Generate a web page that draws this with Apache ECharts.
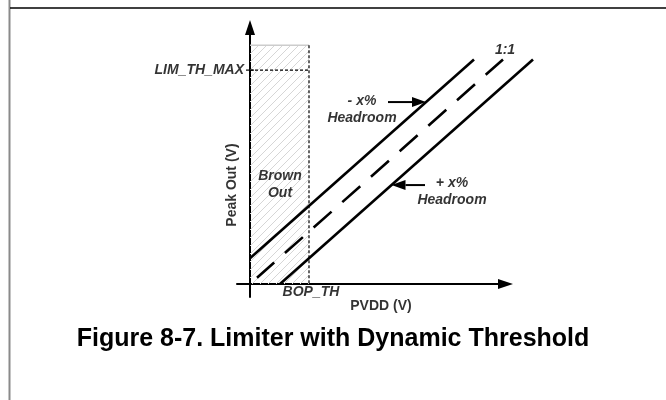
<!DOCTYPE html>
<html>
<head>
<meta charset="utf-8">
<script src="https://cdn.jsdelivr.net/npm/echarts@6/dist/echarts.min.js"></script>
<style>
  html, body { margin: 0; padding: 0; background: #fff; }
  #chart { width: 666px; height: 400px; }
</style>
</head>
<body>
<div id="chart"></div>
<script>
// Peak output threshold versus PVDD supply (schematic units)
const idealLine = [0.7, 0.7, 25.3, 25.3];          // 1:1
const minusHeadroomLine = [0, 2.9, 22.4, 25.3];    // - x% headroom
const plusHeadroomLine = [3.0, 0, 28.3, 25.3];     // + x% headroom
const bopTh = 5.9;          // brown-out threshold on PVDD
const brownOutTop = 26.9;   // top of the brown-out region
const limThMax = 24.1;      // LIM_TH_MAX on peak out

// Callout arrows: [x1, y1, x2, y2], head at the second point
const headroomArrows = [
  [13.8, 20.5, 17.6, 20.5],
  [17.5, 11.15, 14.15, 11.15]
];

// Annotation texts anchored in data space
const annotations = [
  { text: '1:1', at: [25.5, 26.35] },
  { text: '- x%\nHeadroom', at: [11.2, 19.6] },
  { text: '+ x%\nHeadroom', at: [20.2, 10.4] },
  { text: 'Brown\nOut', at: [3.0, 11.2] },
  { text: 'BOP_TH', at: [6.1, -0.9] }
];

const FONT = "'Liberation Sans', Arial, Helvetica, sans-serif";

// Diagonal hatch tile for the brown-out region
function hatchTile() {
  const c = document.createElement('canvas');
  const s = 8;
  c.width = s; c.height = s;
  const g = c.getContext('2d');
  g.strokeStyle = '#d6d6d6';
  g.lineWidth = 1;
  g.beginPath();
  g.moveTo(-1, s + 1); g.lineTo(s + 1, -1);
  g.moveTo(-1, 1); g.lineTo(1, -1);
  g.moveTo(s - 1, s + 1); g.lineTo(s + 1, s - 1);
  g.stroke();
  return c;
}
const hatch = hatchTile();

const chart = echarts.init(document.getElementById('chart'), null, { renderer: 'canvas' });

const axisCommon = {
  type: 'value',
  axisLine: {
    show: true,
    onZero: true,
    symbol: ['none', 'triangle'],
    symbolSize: [10, 15],
    lineStyle: { color: '#000', width: 2 }
  },
  axisTick: { show: false },
  axisLabel: { show: false },
  splitLine: { show: false }
};

// straight segment [x1, y1, x2, y2] drawn through the axes
function segmentSeries(seg, dash, dashOffset) {
  return {
    type: 'custom',
    clip: false,
    z: 3,
    data: [seg],
    renderItem: function (params, api) {
      const a = api.coord([api.value(0), api.value(1)]);
      const b = api.coord([api.value(2), api.value(3)]);
      return {
        type: 'line',
        shape: { x1: a[0], y1: a[1], x2: b[0], y2: b[1] },
        style: { stroke: '#000', lineWidth: 2.6, lineDash: dash || null, lineDashOffset: dashOffset || 0 }
      };
    }
  };
}

chart.setOption({
  animation: false,
  backgroundColor: '#fff',
  title: {
    text: 'Figure 8-7. Limiter with Dynamic Threshold',
    left: 'center',
    top: 322,
    textStyle: { fontFamily: FONT, fontSize: 25, fontWeight: 'bold', color: '#000' }
  },
  graphic: [
    { type: 'line', shape: { x1: 9.5, y1: 0, x2: 9.5, y2: 400 }, style: { stroke: '#8a8a8a', lineWidth: 2 } },
    { type: 'line', shape: { x1: 10, y1: 8, x2: 666, y2: 8 }, style: { stroke: '#000', lineWidth: 1.5 } }
  ],
  grid: { left: 237, right: 160.5, top: 27.5, bottom: 103, containLabel: false },
  xAxis: Object.assign({}, axisCommon, { min: -1.3, max: 25.55 }),
  yAxis: Object.assign({}, axisCommon, { min: -1.46, max: 28.9 }),
  series: [
    {
      // brown-out region with LIM_TH_MAX guide
      type: 'custom',
      clip: false,
      z: 1,
      data: [[0, 0, bopTh, brownOutTop, limThMax]],
      renderItem: function (params, api) {
        const p0 = api.coord([api.value(0), api.value(1)]);
        const p1 = api.coord([api.value(2), api.value(3)]);
        const pl = api.coord([0, api.value(4)]);
        const plEnd = api.coord([api.value(2), api.value(4)]);
        return {
          type: 'group',
          children: [
            { type: 'rect', shape: { x: p0[0], y: p1[1], width: p1[0] - p0[0], height: p0[1] - p1[1] },
              style: { fill: { image: hatch, repeat: 'repeat' }, stroke: null } },
            { type: 'line', shape: { x1: p0[0], y1: p1[1], x2: p1[0], y2: p1[1] },
              style: { stroke: '#cccccc', lineWidth: 1.5 } },
            { type: 'line', shape: { x1: p1[0], y1: p1[1], x2: p1[0], y2: p0[1] },
              style: { stroke: '#000', lineWidth: 1.2, lineDash: [3, 2] } },
            { type: 'line', shape: { x1: pl[0], y1: pl[1], x2: plEnd[0], y2: plEnd[1] },
              style: { stroke: '#000', lineWidth: 1.2, lineDash: [3, 2] } },
            { type: 'line', shape: { x1: pl[0] - 4, y1: pl[1], x2: pl[0] + 4, y2: pl[1] },
              style: { stroke: '#000', lineWidth: 1.2 } }
          ]
        };
      }
    },
    segmentSeries(minusHeadroomLine),
    segmentSeries(idealLine, [24, 14.35], 1),
    segmentSeries(plusHeadroomLine),
    {
      // headroom callout arrows
      type: 'custom',
      clip: false,
      z: 4,
      data: headroomArrows,
      renderItem: function (params, api) {
        const a = api.coord([api.value(0), api.value(1)]);
        const b = api.coord([api.value(2), api.value(3)]);
        const dx = b[0] - a[0], dy = b[1] - a[1];
        const len = Math.sqrt(dx * dx + dy * dy);
        const ux = dx / len, uy = dy / len;
        const headLen = 14, headHalf = 5;
        const base = [b[0] - ux * headLen, b[1] - uy * headLen];
        return {
          type: 'group',
          children: [
            { type: 'line', shape: { x1: a[0], y1: a[1], x2: base[0], y2: base[1] },
              style: { stroke: '#000', lineWidth: 2 } },
            { type: 'polygon', shape: { points: [
                b,
                [base[0] - uy * headHalf, base[1] + ux * headHalf],
                [base[0] + uy * headHalf, base[1] - ux * headHalf]
              ] }, style: { fill: '#000' } }
          ]
        };
      }
    },
    {
      // annotation texts
      type: 'scatter',
      symbolSize: 0,
      clip: false,
      z: 5,
      silent: true,
      data: annotations.map(function (a) {
        return { value: a.at, name: a.text };
      }),
      label: {
        show: true,
        position: 'inside',
        formatter: '{b}',
        fontFamily: FONT,
        fontSize: 14,
        fontWeight: 'bold',
        fontStyle: 'italic',
        color: '#000',
        lineHeight: 17,
        align: 'center',
        verticalAlign: 'middle'
      }
    },
    {
      // LIM_TH_MAX and axis names
      type: 'scatter',
      symbolSize: 0,
      clip: false,
      z: 5,
      silent: true,
      data: [
        { value: [0, limThMax], name: 'LIM_TH_MAX',
          label: { position: 'left', distance: 6, fontStyle: 'italic' } },
        { value: [13.1, -2.48], name: 'PVDD (V)',
          label: { position: 'inside', fontStyle: 'normal' } },
        { value: [-1.8, 11.15], name: 'Peak Out (V)',
          label: { position: 'inside', rotate: 90, fontStyle: 'normal' } }
      ],
      label: {
        show: true,
        formatter: '{b}',
        fontFamily: FONT,
        fontSize: 14,
        fontWeight: 'bold',
        color: '#000'
      }
    }
  ]
});
</script>
</body>
</html>
